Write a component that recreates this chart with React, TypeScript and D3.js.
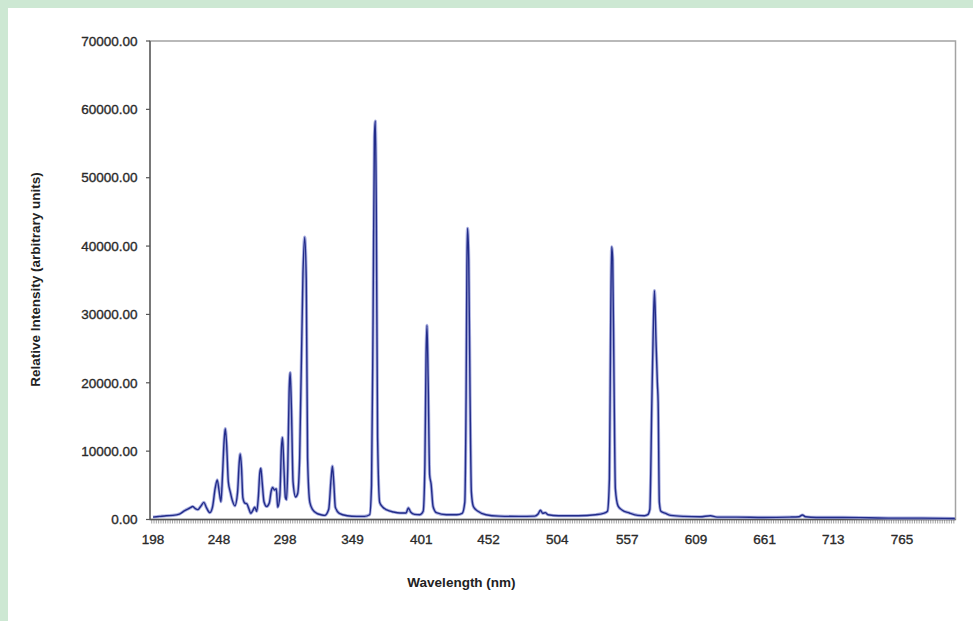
import React, { useEffect, useRef } from 'react';
import * as d3 from 'd3';

// spectrum (nm / relative intensity)
const wavelengths = [
  198, 203, 208, 213, 218, 222, 226, 228, 230, 232, 234, 236.5, 238.5, 241, 243, 245, 246.6, 248, 249.4,
  250.6, 251.8, 252.7, 253.7, 255, 256.5, 258, 260, 262, 263.2, 264, 265, 266, 267.5, 269, 270.5, 272,
  273.5, 275, 276.5, 277.8, 278.8, 279.6, 280.6, 282, 284, 286, 287.5, 288.5, 290, 291.3, 292.4, 294,
  295.2, 296, 297, 298.2, 299, 300, 301, 301.8, 302.8, 304, 305.9, 307.5, 309, 311.5, 312.8, 314, 315,
  316.7, 319, 322, 325, 328, 331, 332.8, 333.8, 334.8, 336, 339, 345, 352, 358, 362, 363.4, 364.6, 365.6,
  366.3, 367, 368, 369.6, 372, 375, 380, 385, 389.5, 391.3, 393, 396, 400, 402.5, 403.8, 404.7, 405.4,
  406.3, 407.4, 408.5, 410, 412.5, 420, 428, 432, 434, 435, 435.6, 436.1, 437, 438, 439, 440.5, 444, 450,
  460, 475, 487, 489.5, 491.3, 493, 495, 497, 505, 520, 533, 539, 542, 543.5, 544.5, 545.2, 546, 547, 548,
  550, 553, 558.6, 565, 570, 572.5, 574.1, 575.6, 576.6, 577.6, 578.8, 579.8, 580.4, 581.3, 582.5, 586,
  590, 600, 612, 620, 625, 640, 660, 680, 687, 689.6, 692, 700, 720, 740, 760, 780, 805,
];
const intensities = [
  350, 450, 550, 600, 800, 1300, 1700, 1900, 1600, 1450, 1900, 2500, 1700, 1000, 1800, 4500, 5800, 4200, 2600,
  6500, 11500, 13300, 11000, 5500, 4000, 2800, 2000, 4000, 8200, 9600, 7500, 3200, 2400, 2300, 1600, 900,
  1300, 1800, 1200, 3500, 6800, 7500, 5500, 2600, 1900, 2400, 4200, 4700, 4300, 4500, 1800, 3500,
  10500, 12000, 8000, 3200, 2900, 7500, 18500, 21500, 16000, 5500, 3300, 3800, 9000, 36000, 41300, 35000, 9000,
  2500, 1400, 900, 700, 600, 1500, 6000, 7800, 5500, 1800, 900, 550, 450, 450, 700, 5000, 30000, 56000,
  58300, 46000, 12000, 2500, 1800, 1400, 1100, 950, 950, 1700, 1100, 750, 700, 1200, 8000, 24000, 28400,
  20000, 6500, 5200, 1900, 1000, 700, 700, 900, 2500, 18000, 37000, 42600, 38000, 18000, 4000, 1900, 1200, 700,
  500, 450, 500, 800, 1350, 900, 1000, 700, 550, 550, 700, 900, 1200, 6000, 30000, 39900, 38000, 20000, 4500,
  2000, 1400, 950, 600, 550, 700, 1500, 17000, 27000, 33500, 26000, 20000, 17000, 2500, 1200, 900,
  600, 450, 400, 550, 350, 350, 300, 350, 400, 650, 400, 300, 300, 250, 200, 200, 150,
];
const xTickLabels = [198, 248, 298, 349, 401, 452, 504, 557, 609, 661, 713, 765];
const yTicks = [0, 10000, 20000, 30000, 40000, 50000, 60000, 70000];

const W = 973;
const H = 621;
const plot = { left: 150, right: 955.5, top: 41, bottom: 519.5 };

const App: React.FC = () => {
  const svgRef = useRef<SVGSVGElement>(null);

  useEffect(() => {
    if (!svgRef.current) return;
    const svg = d3.select(svgRef.current);
    svg.selectAll('*').remove();

    const font = "'Liberation Sans', Arial, sans-serif";

    // page background + white card
    svg.append('rect').attr('width', W).attr('height', H).attr('fill', '#cde8d3');
    svg.append('rect').attr('x', 8).attr('y', 8).attr('width', W - 8).attr('height', H - 8).attr('fill', '#ffffff');

    const x = d3.scaleLinear().domain([195.7, 805.5]).range([plot.left, plot.right]);
    const y = d3.scaleLinear().domain([0, 70000]).range([plot.bottom, plot.top]);

    // frame
    svg.append('rect')
      .attr('x', plot.left).attr('y', plot.top)
      .attr('width', plot.right - plot.left).attr('height', plot.bottom - plot.top)
      .attr('fill', 'none').attr('stroke', '#a3a3a3').attr('stroke-width', 1.5);

    // minor category ticks under the x axis
    svg.append('g').selectAll('line')
      .data(d3.range(197, 805, 1.75))
      .enter().append('line')
      .attr('x1', d => x(d)).attr('x2', d => x(d))
      .attr('y1', plot.bottom).attr('y2', plot.bottom + 4)
      .attr('stroke', '#8a8a8a').attr('stroke-width', 0.8);

    // axes lines
    svg.append('line')
      .attr('x1', plot.left).attr('x2', plot.left).attr('y1', plot.top).attr('y2', plot.bottom)
      .attr('stroke', '#555').attr('stroke-width', 1.3);
    svg.append('line')
      .attr('x1', plot.left).attr('x2', plot.right).attr('y1', plot.bottom).attr('y2', plot.bottom)
      .attr('stroke', '#555').attr('stroke-width', 1.3);

    // y ticks + labels
    const yg = svg.append('g');
    yg.selectAll('line').data(yTicks).enter().append('line')
      .attr('x1', plot.left - 4).attr('x2', plot.left)
      .attr('y1', d => y(d)).attr('y2', d => y(d))
      .attr('stroke', '#555').attr('stroke-width', 1.2);
    yg.selectAll('text').data(yTicks).enter().append('text')
      .attr('x', 137.5).attr('y', d => y(d)).attr('dy', '0.35em')
      .attr('text-anchor', 'end')
      .attr('font-family', font).attr('font-size', 13.5)
      .attr('fill', '#2a2a2a').attr('stroke', '#2a2a2a').attr('stroke-width', 0.35)
      .text(d => d3.format('.2f')(d));

    // x labels
    svg.append('g').selectAll('text').data(xTickLabels).enter().append('text')
      .attr('x', d => x(d)).attr('y', 543.5)
      .attr('text-anchor', 'middle')
      .attr('font-family', font).attr('font-size', 13.5)
      .attr('fill', '#2a2a2a').attr('stroke', '#2a2a2a').attr('stroke-width', 0.35)
      .text(d => String(d));

    // titles
    svg.append('text')
      .attr('x', 461.5).attr('y', 587)
      .attr('text-anchor', 'middle')
      .attr('font-family', font).attr('font-size', 13.5).attr('font-weight', 'bold')
      .attr('fill', '#222')
      .text('Wavelength (nm)');
    svg.append('text')
      .attr('transform', 'translate(40,279.5) rotate(-90)')
      .attr('text-anchor', 'middle')
      .attr('font-family', font).attr('font-size', 13.5).attr('font-weight', 'bold')
      .attr('fill', '#222')
      .text('Relative Intensity (arbitrary units)');

    // spectrum
    const pts = wavelengths.map((w, i) => [w, intensities[i]] as [number, number]);
    const line = d3.line<[number, number]>()
      .x(d => x(d[0]))
      .y(d => y(d[1]))
      .curve(d3.curveMonotoneX);

    svg.append('path').datum(pts)
      .attr('d', line)
      .attr('fill', 'none')
      .attr('stroke', '#8f95d6')
      .attr('stroke-width', 3.2)
      .attr('stroke-linejoin', 'round')
      .attr('opacity', 0.75);
    svg.append('path').datum(pts)
      .attr('d', line)
      .attr('fill', 'none')
      .attr('stroke', '#222c8a')
      .attr('stroke-width', 1.4)
      .attr('stroke-linejoin', 'round');
  }, []);

  return (
    <svg
      ref={svgRef}
      width={W}
      height={H}
      style={{ position: 'absolute', left: 0, top: 0, display: 'block' }}
    />
  );
};

export default App;
